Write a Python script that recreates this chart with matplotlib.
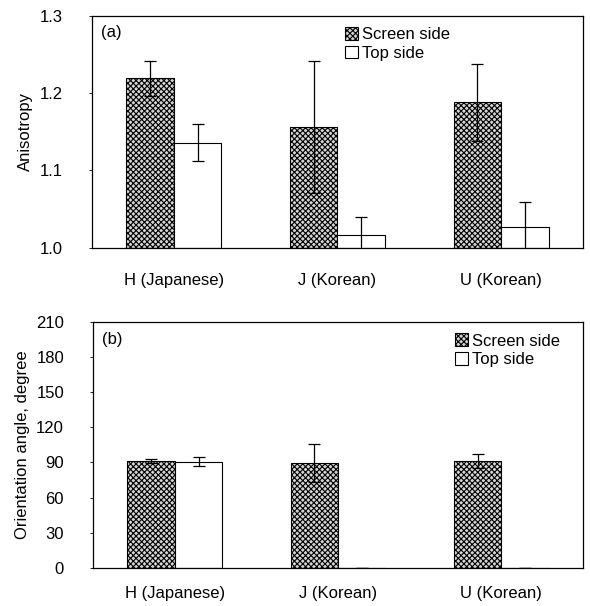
import numpy as np
import matplotlib.pyplot as plt

plt.rcParams['font.family'] = ['Liberation Sans', 'DejaVu Sans']
plt.rcParams['hatch.linewidth'] = 0.8
plt.rcParams['hatch.color'] = '#2a2a2a'

categories = ['H (Japanese)', 'J (Korean)', 'U (Korean)']

# (a) anisotropy
aniso_screen = [1.219, 1.156, 1.188]
aniso_screen_err = [0.023, 0.085, 0.050]
aniso_top = [1.136, 1.017, 1.027]
aniso_top_err = [0.024, 0.023, 0.032]

# (b) orientation angle
angle_screen = [91.1, 89.4, 91.4]
angle_screen_err = [1.5, 16.0, 6.0]
angle_top = [90.5, 0, 0]
angle_top_err = [4.0, 0, 0]

fig = plt.figure(figsize=(5.9, 6.06), dpi=100)
ax1 = fig.add_axes([0.156, 0.591, 0.832, 0.383])
ax2 = fig.add_axes([0.158, 0.063, 0.830, 0.406])

x = np.arange(len(categories))
w = 0.29
fs = 12


def draw(ax, screen, serr, top, terr, base, ylim, yticks, fmt, label, tag, legx, xpad):
    ax.bar(x - w / 2, np.array(screen) - base, w, bottom=base, facecolor='#d4d4d4',
           edgecolor='black', hatch='xxxxxx', linewidth=0.8, label='Screen side')
    ax.bar(x + w / 2, np.array(top) - base, w, bottom=base, facecolor='white',
           edgecolor='black', linewidth=0.8, label='Top side')
    ax.errorbar(x - w / 2, screen, yerr=serr, fmt='none', ecolor='black',
                elinewidth=0.9, capsize=4, capthick=0.9)
    te = [e if v > 0 else 0 for v, e in zip(top, terr)]
    ax.errorbar(x + w / 2, top, yerr=te, fmt='none', ecolor='black',
                elinewidth=0.9, capsize=4, capthick=0.9)
    ax.set_xlim(-0.5, 2.5)
    ax.set_ylim(*ylim)
    ax.set_yticks(yticks)
    ax.set_yticklabels([fmt.format(v) for v in yticks], fontsize=fs)
    ax.set_xticks(x)
    ax.set_xticklabels(categories, fontsize=fs)
    ax.tick_params(axis='x', length=0, pad=xpad)
    ax.tick_params(axis='y', direction='out', length=2, width=0.6, pad=19)
    ax.set_ylabel(label, fontsize=fs)
    for s in ax.spines.values():
        s.set_linewidth(0.9)
    ax.text(0.018, 0.93, tag, transform=ax.transAxes, fontsize=fs, va='center')
    ax.legend(loc='upper left', bbox_to_anchor=(legx, 0.98), frameon=False,
              handlelength=0.8, handleheight=0.8, handletextpad=0.2,
              labelspacing=0.2, fontsize=fs, borderaxespad=0)


draw(ax1, aniso_screen, aniso_screen_err, aniso_top, aniso_top_err, 1.0,
     (1.0, 1.3), [1.0, 1.1, 1.2, 1.3], '{:.1f}', 'Anisotropy', '(a)', 0.502, 18)
draw(ax2, angle_screen, angle_screen_err, angle_top, angle_top_err, 0,
     (0, 210), list(range(0, 211, 30)), '{:d}', 'Orientation angle, degree', '(b)', 0.725, 13)
ax1.yaxis.set_label_coords(-0.12, 0.5)
ax2.yaxis.set_label_coords(-0.13, 0.5)

fig.savefig('out.png', dpi=100)
